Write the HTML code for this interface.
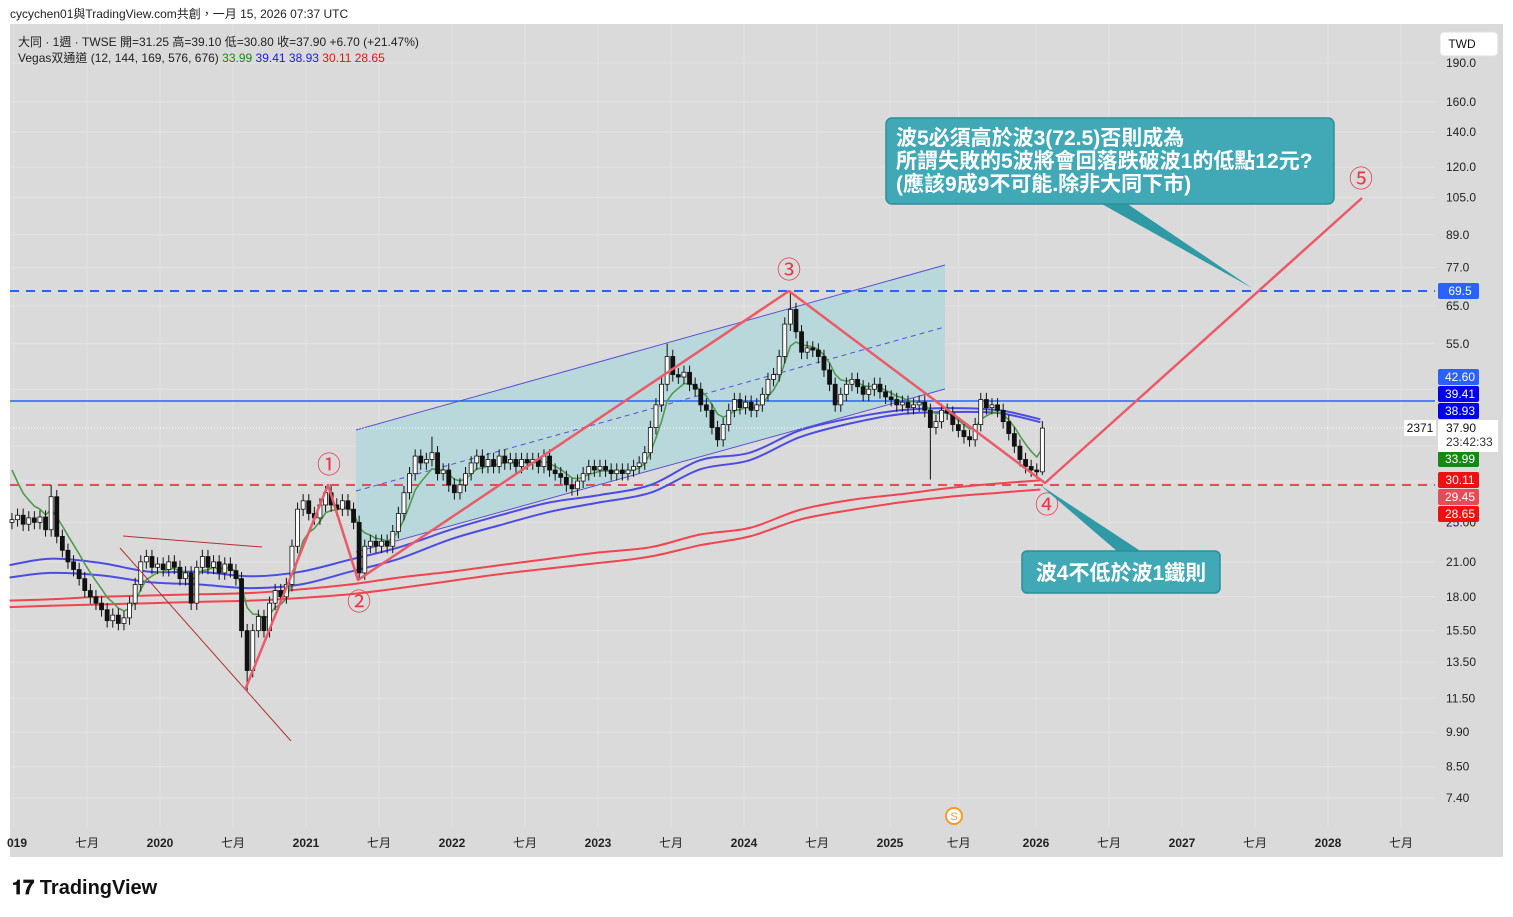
<!DOCTYPE html>
<html><head><meta charset="utf-8">
<style>
html,body{margin:0;padding:0;background:#fff;width:1513px;height:917px;overflow:hidden;font-family:"Liberation Sans","Noto Sans CJK TC",sans-serif;}
#wrap{position:relative;width:1513px;height:917px;}
svg text{font-family:"Liberation Sans","Noto Sans CJK TC",sans-serif;}
</style></head>
<body>
<div id="wrap">
<svg id="chart" width="1513" height="917" xmlns="http://www.w3.org/2000/svg"></svg>
</div>
<script>
// ---- data ----
const startYear = 2018.986;
const stepYears = 5.6/146;
const closes = [25.3,25.8,24.8,25.5,25.0,25.6,24.2,28.0,23.5,22.1,21.0,20.3,19.5,18.5,18.0,17.5,17.0,16.2,16.6,16.0,
16.4,17.5,19.0,21.0,21.5,20.5,20.8,20.3,21.0,20.5,19.5,20.0,17.5,20.5,21.5,20.5,21.0,20.0,20.8,20.2,
19.5,15.5,13.0,15.5,16.5,15.5,17.5,18.5,18.0,19.0,22.5,26.5,27.5,26.0,25.5,27.0,28.5,27.0,26.5,27.5,
26.5,25.0,20.0,22.5,23.0,22.5,23.0,22.5,24.0,26.0,28.5,31.0,33.5,32.5,33.0,34.0,31.0,31.5,29.5,28.5,
29.5,31.0,32.5,33.5,32.0,33.0,32.0,33.5,32.5,33.0,32.0,33.0,32.5,33.0,32.0,33.5,31.5,31.0,30.5,29.5,
29.0,30.0,31.0,32.0,31.5,32.0,31.5,31.0,31.5,31.0,31.5,32.0,32.5,34.0,38.0,42.0,46.0,52.0,48.0,47.5,
48.5,46.0,45.0,42.0,41.0,38.0,36.0,38.5,41.0,43.0,41.5,42.5,41.0,42.0,44.0,47.0,48.0,52.0,60.0,64.0,
58.0,53.0,54.0,53.5,52.0,49.0,46.0,42.0,44.0,46.0,47.0,45.5,44.0,45.0,46.0,44.5,43.5,43.0,42.0,42.5,
41.5,42.0,42.5,41.0,38.0,39.0,41.0,40.5,38.5,37.5,36.5,36.0,38.5,43.0,41.5,42.0,41.0,39.0,37.0,35.0,
33.0,32.0,31.5,31.25,37.9];
const firstOpen = 25.0;
const spikeIdx = [7,42,62,75,117,139,164,184];
const spikeVal = [29.5,11.9,19.5,36.5,55.0,69.5,30.2,39.1];
const maYears = [2018.97,2019.25,2019.59,2019.93,2020.27,2020.62,2020.96,2021.30,2021.64,2021.99,2022.33,2022.67,2023.01,2023.36,2023.70,2024.04,2024.38,2024.73,2025.07,2025.41,2025.75,2026.03];
const ema144 = [20.7,21.3,20.9,20.1,20.1,19.7,20.1,21.2,22.4,24.2,25.8,27.3,28.2,29.5,32.9,34.0,37.5,39.6,41.0,41.4,41.0,39.4];
const ema169 = [19.6,20.0,19.8,19.2,19.0,18.7,19.0,20.1,21.3,23.2,24.7,26.2,27.3,28.5,31.6,32.9,36.4,38.7,40.3,40.7,40.5,38.9];
const ema576 = [17.7,17.8,18.0,18.1,18.2,18.3,18.6,19.0,19.6,20.1,20.7,21.3,21.9,22.4,23.7,24.4,26.4,27.6,28.3,29.1,29.7,30.1];
const ema676 = [17.2,17.3,17.4,17.5,17.6,17.7,17.9,18.2,18.7,19.3,19.9,20.4,20.9,21.5,22.6,23.5,25.3,26.4,27.3,28.0,28.5,28.9];
const priceTicks = [190,160,140,120,105,89,77,65,55,25,21,18,15.5,13.5,11.5,9.9,8.5,7.4];
const priceTickLabels = ["190.0","160.0","140.0","120.0","105.0","89.0","77.0","65.0","55.0","25.00","21.00","18.00","15.50","13.50","11.50","9.90","8.50","7.40"];
const timeTicks = [2019.0,2019.5,2020,2020.5,2021,2021.5,2022,2022.5,2023,2023.5,2024,2024.5,2025,2025.47,2026,2026.5,2027,2027.5,2028,2028.5];
const timeTickLabels = ["019","七月","2020","七月","2021","七月","2022","七月","2023","七月","2024","七月","2025","七月","2026","七月","2027","七月","2028","七月"];

// ---- axes ----
function yOf(p){ return 63 + Math.log(190/p)*226.5; }
function xOf(t){ return 160 + (t-2020)*146; }
const NS="http://www.w3.org/2000/svg";
const svg=document.getElementById('chart');
function mk(tag,attrs,parent){const e=document.createElementNS(NS,tag);for(const k in attrs)e.setAttribute(k,attrs[k]);(parent||svg).appendChild(e);return e;}

let bg=mk('rect',{x:10,y:24,width:1493,height:833,fill:'#dadada'});



const grid=mk('g',{stroke:'#e3e3e3','stroke-width':1});


priceTicks.forEach(p=>{mk('line',{x1:10,x2:1435,y1:yOf(p),y2:yOf(p)},grid);});
[30,35,45].forEach(p=>{mk('line',{x1:10,x2:1435,y1:yOf(p),y2:yOf(p)},grid);});
timeTicks.forEach(t=>{mk('line',{x1:xOf(t),x2:xOf(t),y1:24,y2:828},grid);});

const ch=mk('polygon',{points:'356,430 945,265 945,389 356,552',fill:'#b5d7db','fill-opacity':0.9});


mk('line',{x1:356,y1:430,x2:945,y2:265,stroke:'#5a4fcf','stroke-width':1});
mk('line',{x1:356,y1:552,x2:945,y2:389,stroke:'#5a4fcf','stroke-width':1});
mk('line',{x1:356,y1:491,x2:945,y2:327,stroke:'#5a4fcf','stroke-width':1,'stroke-dasharray':'5,4'});

let hl=mk('line',{x1:10,x2:1435,y1:291,y2:291,stroke:'#2962ff','stroke-width':2,'stroke-dasharray':'9,7'});


hl=mk('line',{x1:10,x2:1435,y1:401,y2:401,stroke:'#2962ff','stroke-width':1.5});


hl=mk('line',{x1:10,x2:1435,y1:485,y2:485,stroke:'#e84b58','stroke-width':2,'stroke-dasharray':'9,7'});


mk('line',{x1:10,x2:1435,y1:428,y2:428,stroke:'#ffffff','stroke-width':1,'stroke-dasharray':'1,2'});

function maPath(arr,color,w,name){
  const pts=arr.map((v,i)=>[xOf(maYears[i]),yOf(v)]);
  let d='M'+pts[0][0].toFixed(1)+','+pts[0][1].toFixed(1);
  for(let i=0;i<pts.length-1;i++){
    const p0=pts[Math.max(0,i-1)],p1=pts[i],p2=pts[i+1],p3=pts[Math.min(pts.length-1,i+2)];
    const c1x=p1[0]+(p2[0]-p0[0])/6,c1y=p1[1]+(p2[1]-p0[1])/6;
    const c2x=p2[0]-(p3[0]-p1[0])/6,c2y=p2[1]-(p3[1]-p1[1])/6;
    d+=' C'+c1x.toFixed(1)+','+c1y.toFixed(1)+' '+c2x.toFixed(1)+','+c2y.toFixed(1)+' '+p2[0].toFixed(1)+','+p2[1].toFixed(1);
  }
  const p=mk('path',{d:d,fill:'none',stroke:color,'stroke-width':w});
  
  
}
maPath(ema576,'#f0444f',2,'ema-576-line');
maPath(ema676,'#f0444f',2,'ema-676-line');
maPath(ema144,'#4b4be6',2,'ema-144-line');
maPath(ema169,'#4b4be6',2,'ema-169-line');

let e=31.5, gd='';
closes.forEach((c,i)=>{ e = i===0 ? e : e + (c-e)*2/7; gd+=(i?'L':'M')+xOf(startYear+i*stepYears).toFixed(1)+','+yOf(e).toFixed(1)+' ';});
const gp=mk('path',{d:gd,fill:'none',stroke:'#4f9a4f','stroke-width':1.6});



const cg=mk('g',{});


closes.forEach((c,i)=>{
  const o = i===0 ? firstOpen : closes[i-1];
  let hi=Math.max(o,c)*1.03, lo=Math.min(o,c)*0.97;
  const si=spikeIdx.indexOf(i);
  if(si>=0){ if(spikeVal[si]>Math.max(o,c)) hi=spikeVal[si]; else lo=spikeVal[si]; }
  if(i===closes.length-1){ lo=30.8; }
  const x=xOf(startYear+i*stepYears);
  mk('line',{x1:x,x2:x,y1:yOf(hi),y2:yOf(lo),stroke:'#111','stroke-width':1},cg);
  const top=yOf(Math.max(o,c)), bot=yOf(Math.min(o,c));
  const r=mk('rect',{x:x-2,y:top,width:4,height:Math.max(1,bot-top),fill:c>=o?'#ffffff':'#111',stroke:'#111','stroke-width':0.8},cg);
  
  
});

mk('line',{x1:123,y1:536,x2:262,y2:547,stroke:'#b0302f','stroke-width':1});
mk('line',{x1:120,y1:548,x2:291,y2:741,stroke:'#b0302f','stroke-width':1});

const wv=mk('polyline',{points:'245,690 328,485 358,580 789,291 1045,483 1362,198',fill:'none',stroke:'#eb5a68','stroke-width':2.5,'stroke-linejoin':'round'});



[['①',329,465,'wave-1-label'],['②',359,602,'wave-2-label'],['③',789,270,'wave-3-label'],['④',1047,505,'wave-4-label'],['⑤',1361,179,'wave-5-label']].forEach(w=>{
  const t=mk('text',{x:w[1],y:w[2]+8,'font-size':24,fill:'#e8374a','text-anchor':'middle'});
  t.textContent=w[0];
  
  
});

mk('polygon',{points:'1100,203 1126,203 1252,288',fill:'#2f9aa6'});
let cb=mk('rect',{x:886,y:118,width:448,height:86,rx:6,fill:'#41a8b5',stroke:'#2a9099','stroke-width':1.5});


[['波5必須高於波3(72.5)否則成為',145],['所謂失敗的5波將會回落跌破波1的低點12元?',168],['(應該9成9不可能.除非大同下市)',191]].forEach(l=>{
  const t=mk('text',{x:896,y:l[1],'font-size':21,fill:'#fff','font-weight':'bold'});t.textContent=l[0];
});
mk('polygon',{points:'1118,552 1142,552 1040,485',fill:'#2f9aa6'});
cb=mk('rect',{x:1022,y:551,width:198,height:42,rx:5,fill:'#41a8b5',stroke:'#2a9099','stroke-width':1.5});


let ct=mk('text',{x:1121,y:580,'font-size':21,fill:'#fff','font-weight':'bold','text-anchor':'middle'});ct.textContent='波4不低於波1鐵則';

const ax=mk('g',{'font-size':12,fill:'#222'});


priceTicks.forEach((p,i)=>{const t=mk('text',{x:1446,y:yOf(p)+4},ax);t.textContent=priceTickLabels[i];});
function badge(y,txt,bgc,name){
  const r=mk('rect',{x:1438,y:y-8,width:41,height:16,rx:2,fill:bgc});
  
  
  const t=mk('text',{x:1460,y:y+4,'font-size':12,fill:'#fff','text-anchor':'middle'});t.textContent=txt;
}
badge(291,'69.5','#2962ff','badge-69-5');
badge(377,'42.60','#2962ff','badge-42-60');
badge(394,'39.41','#0000ee','badge-39-41');
badge(411,'38.93','#0000ee','badge-38-93');
badge(459,'33.99','#138a13','badge-33-99');
badge(480,'30.11','#ee1111','badge-30-11');
badge(497,'29.45','#e84b58','badge-29-45');
badge(514,'28.65','#ee1111','badge-28-65');
mk('rect',{x:1438,y:420,width:60,height:32,fill:'#fff'});
let t1=mk('text',{x:1446,y:432,'font-size':12,fill:'#111'});t1.textContent='37.90';
t1=mk('text',{x:1446,y:446,'font-size':12,fill:'#333'});t1.textContent='23:42:33';
mk('rect',{x:1404,y:420,width:32,height:16,fill:'#fff'});
t1=mk('text',{x:1420,y:432,'font-size':12,fill:'#111','text-anchor':'middle'});t1.textContent='2371';

const tx=mk('g',{'font-size':12,fill:'#222','text-anchor':'middle'});


timeTicks.forEach((t,i)=>{const el=mk('text',{x:i===0?17:xOf(t),y:847,'font-weight':/^\d/.test(timeTickLabels[i])?'bold':'normal'},tx);el.textContent=timeTickLabels[i];});

mk('circle',{cx:954,cy:816,r:8,fill:'#fff',stroke:'#f59a23','stroke-width':2});
let si=mk('text',{x:954,y:820,'font-size':11,fill:'#f59a23','text-anchor':'middle'});si.textContent='S';

let tw=mk('rect',{x:1440,y:32,width:58,height:24,rx:4,fill:'#fff',stroke:'#ddd'});


let twt=mk('text',{x:1462,y:48,'font-size':12,fill:'#111','text-anchor':'middle'});twt.textContent='TWD';

let h=mk('text',{x:10,y:18,'font-size':12,fill:'#222'});h.textContent='cycychen01與TradingView.com共創，一月 15, 2026 07:37 UTC';


h=mk('text',{x:18,y:46,'font-size':12,fill:'#222'});h.textContent='大同 · 1週 · TWSE  開=31.25  高=39.10  低=30.80  收=37.90  +6.70 (+21.47%)';


h=mk('text',{x:18,y:62,'font-size':12,fill:'#222'});


[['Vegas双通道 (12, 144, 169, 576, 676) ','#222'],['33.99  ','#138a13'],['39.41  ','#1a1ae0'],['38.93  ','#1a1ae0'],['30.11  ','#ee1111'],['28.65','#ee1111']].forEach(s=>{const sp=mk('tspan',{fill:s[1]},h);sp.textContent=s[0];});

let lg=mk('text',{x:12,y:894,'font-size':20,fill:'#111','font-weight':'bold'});lg.textContent='𝟏𝟕 TradingView';


</script>
</body></html>
